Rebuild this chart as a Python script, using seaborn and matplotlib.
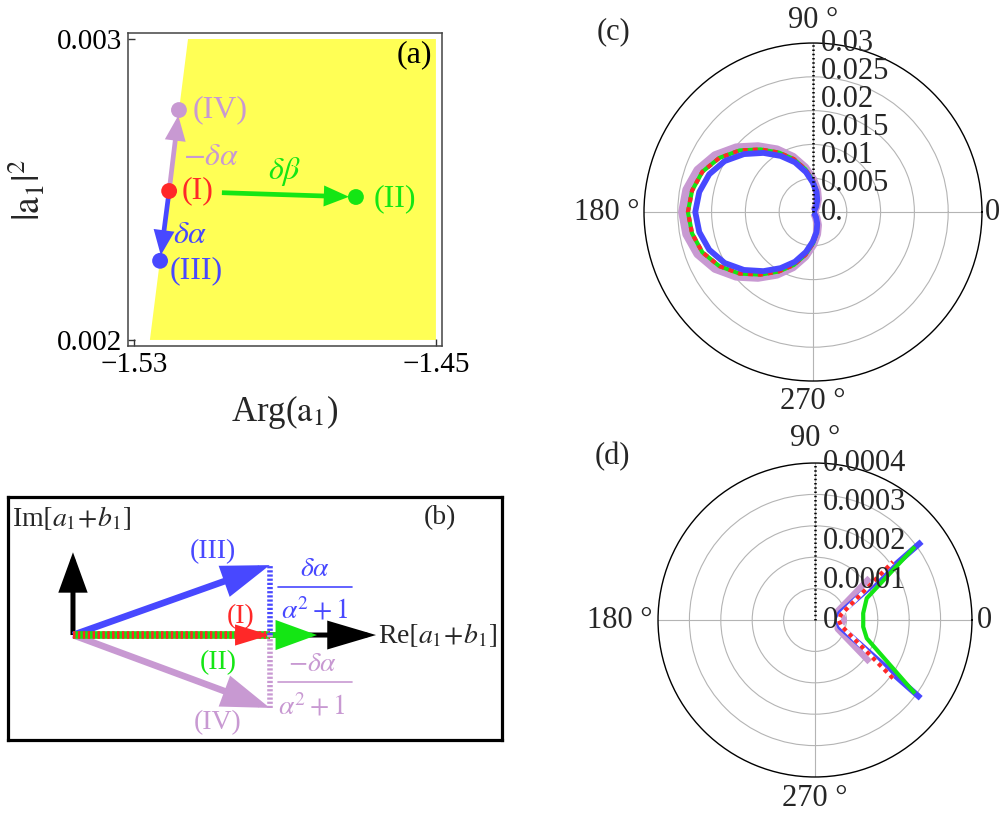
import numpy as np
import matplotlib
matplotlib.use("Agg")
import matplotlib.pyplot as plt
import seaborn as sns

# ---------------- data ----------------
# panel (a): stable region and the four states
region_arg = [-1.5258, -1.5157, -1.45, -1.45]
region_abs2 = [0.002, 0.003, 0.003, 0.002]
state_names = ["(I)", "(II)", "(III)", "(IV)"]
state_arg = [-1.5207, -1.4712, -1.5231, -1.5181]
state_abs2 = [0.002495, 0.002475, 0.002263, 0.002764]
a_xticks = [-1.53, -1.45]
a_yticks = [0.002, 0.003]

# panel (b): phasors in the complex plane
vec_names = ["(I)", "(II)", "(III)", "(IV)"]
vec_re = [1.0, 1.24, 1.0, 1.0]
vec_im = [0.0, 0.0, 0.355, -0.37]
axis_len_re = 1.54
axis_len_im = 0.42

# panel (c): polar curves (angle in degrees, radius)
theta_c = [0, 10, 20, 30, 40, 50, 60, 70, 80, 90, 100, 110, 120, 130, 140, 150, 160, 170, 180,
           190, 200, 210, 220, 230, 240, 250, 260, 270, 280, 290, 300, 310, 320, 330, 340, 350, 360]
rc_I = [0, 0, 0, 0.0001, 0.0002, 0.0005, 0.0011, 0.0024, 0.0038, 0.0056, 0.0077, 0.0100, 0.0122,
        0.0145, 0.0170, 0.0192, 0.0209, 0.0218, 0.0222,
        0.0218, 0.0209, 0.0192, 0.0170, 0.0145, 0.0122, 0.0100, 0.0077, 0.0056, 0.0038, 0.0024,
        0.0011, 0.0005, 0.0002, 0.0001, 0, 0, 0]
rc_II = [0, 0, 0, 0.0001, 0.0002, 0.0005, 0.0011, 0.0024, 0.0038, 0.0056, 0.0077, 0.0100, 0.0122,
         0.0145, 0.0170, 0.0192, 0.0209, 0.0218, 0.0222,
         0.0218, 0.0209, 0.0192, 0.0170, 0.0145, 0.0122, 0.0100, 0.0077, 0.0056, 0.0038, 0.0024,
         0.0011, 0.0005, 0.0002, 0.0001, 0, 0, 0]
rc_III = [0, 0, 0, 0.0001, 0.0002, 0.0004, 0.0011, 0.0022, 0.0036, 0.0052, 0.0072, 0.0094, 0.0115,
          0.0137, 0.0160, 0.0181, 0.0196, 0.0205, 0.0209,
          0.0205, 0.0196, 0.0181, 0.0160, 0.0137, 0.0115, 0.0094, 0.0072, 0.0052, 0.0036, 0.0022,
          0.0011, 0.0004, 0.0002, 0.0001, 0, 0, 0]
rc_IV = [0, 0, 0, 0.0001, 0.0002, 0.0005, 0.0012, 0.0025, 0.0040, 0.0058, 0.0080, 0.0104, 0.0128,
         0.0152, 0.0178, 0.0201, 0.0218, 0.0228, 0.0232,
         0.0228, 0.0218, 0.0201, 0.0178, 0.0152, 0.0128, 0.0104, 0.0080, 0.0058, 0.0040, 0.0025,
         0.0012, 0.0005, 0.0002, 0.0001, 0, 0, 0]
rc_ticks = [0.0, 0.005, 0.01, 0.015, 0.02, 0.025, 0.03]
rc_ticklabels = ["0.", "0.005", "0.01", "0.015", "0.02", "0.025", "0.03"]
rc_grid = [0.006, 0.012, 0.018, 0.024]

# panel (d): polar curves
thd_I = [-36.8, -12, 0, 12, 36.8]
rd_I = [2.48e-4, 0.68e-4, 0.60e-4, 0.68e-4, 2.48e-4]
thd_II = [-36.3, -19.5, -8, 0, 8, 22.8, 36.3]
rd_II = [3.16e-4, 1.40e-4, 1.24e-4, 1.23e-4, 1.24e-4, 1.43e-4, 3.16e-4]
thd_III = [-36.5, -15, 0, 15, 36.3]
rd_III = [3.35e-4, 0.66e-4, 0.58e-4, 0.66e-4, 3.37e-4]
thd_IV = [-37, -20, 0, 20, 37]
rd_IV = [1.76e-4, 0.63e-4, 0.72e-4, 0.63e-4, 1.76e-4]
rd_ticks = [0.0, 1e-4, 2e-4, 3e-4, 4e-4]
rd_ticklabels = ["0", "0.0001", "0.0002", "0.0003", "0.0004"]
rd_grid = [0.8e-4, 1.6e-4, 2.4e-4, 3.2e-4]

theta_label_pos = [0, 90, 180, 270]
theta_labels = ["0", "90 \u00b0", "180 \u00b0", "270 \u00b0"]

# ---------------- style ----------------
RED = "#FF2828"
GREEN = "#14E614"
BLUE = "#4848FF"
LAV = "#C899D2"
YELLOW = "#FFFF55"
GRID = "#B4B4B4"

sns.set_theme(style="white")
plt.rcParams["font.family"] = ["Liberation Serif", "DejaVu Serif"]
plt.rcParams["mathtext.fontset"] = "stix"
plt.rcParams["axes.unicode_minus"] = True

fig = plt.figure(figsize=(10.04, 8.15), dpi=100)
fig.patch.set_facecolor("white")


def arrow(ax, start, end, color, lw, hl, hw, shrinkA=0, shrinkB=0, z=3):
    ax.annotate("", xy=end, xytext=start,
                arrowprops=dict(arrowstyle=f"-|>,head_length={hl},head_width={hw}",
                                color=color, lw=lw, shrinkA=shrinkA, shrinkB=shrinkB,
                                mutation_scale=1, joinstyle="miter", capstyle="butt"),
                zorder=z)


# ================= (a) =================
axA = fig.add_axes([0.1275, 0.5755, 0.3127, 0.384])
axA.fill(region_arg, region_abs2, color=YELLOW, lw=0, zorder=0)
axA.set_xlim(-1.5316, -1.4484)
axA.set_ylim(0.00198, 0.00302)

pt = {n: (x, y) for n, x, y in zip(state_names, state_arg, state_abs2)}
arrow(axA, pt["(I)"], pt["(IV)"], LAV, 3.4, 12, 5, shrinkB=4)
arrow(axA, pt["(I)"], pt["(III)"], BLUE, 3.4, 12, 5, shrinkB=4)
arrow(axA, pt["(I)"], pt["(II)"], GREEN, 3.4, 12, 5, shrinkA=38, shrinkB=5)

sns.scatterplot(x=state_arg, y=state_abs2, hue=state_names,
                palette={"(I)": RED, "(II)": GREEN, "(III)": BLUE, "(IV)": LAV},
                s=130, linewidth=0, legend=False, ax=axA, zorder=6)

fsA = 23
axA.annotate("(IV)", pt["(IV)"], xytext=(10, 0), textcoords="offset points",
             ha="left", va="center", color=LAV, fontsize=fsA)
axA.annotate("(I)", pt["(I)"], xytext=(9, 0), textcoords="offset points",
             ha="left", va="center", color=RED, fontsize=fsA)
axA.annotate("(II)", pt["(II)"], xytext=(13, -1), textcoords="offset points",
             ha="left", va="center", color=GREEN, fontsize=fsA)
axA.annotate("(III)", pt["(III)"], xytext=(7, -7), textcoords="offset points",
             ha="left", va="center", color=BLUE, fontsize=fsA)
axA.annotate(r"$-\delta\alpha$", pt["(I)"], xytext=(10, 24), textcoords="offset points",
             ha="left", va="center", color=LAV, fontsize=fsA)
axA.annotate(r"$\delta\alpha$", pt["(I)"], xytext=(3, -32), textcoords="offset points",
             ha="left", va="center", color=BLUE, fontsize=fsA)
axA.annotate(r"$\delta\beta$", pt["(I)"], xytext=(83, 14), textcoords="offset points",
             ha="center", va="center", color=GREEN, fontsize=fsA)
axA.text(0.968, 0.93, "(a)", transform=axA.transAxes, ha="right", va="center",
         fontsize=fsA, color="black")

axA.set_xticks(a_xticks)
axA.set_xticklabels([f"{v:.2f}".replace("-", "\u2212") for v in a_xticks])
axA.set_yticks(a_yticks)
axA.set_yticklabels([f"{v:.3f}" for v in a_yticks])
axA.tick_params(direction="in", length=5, width=1, colors="#333333", labelsize=21,
                labelcolor="black", pad=4, left=True, bottom=True)
for s in axA.spines.values():
    s.set_color("#444444")
    s.set_linewidth(1.1)
axA.set_xlabel(r"Arg($\mathrm{a}_1$)", fontsize=25)
axA.set_ylabel(r"$|\mathrm{a}_1|^2$", fontsize=27)
axA.xaxis.set_label_coords(0.5, -0.15)
axA.yaxis.set_label_coords(-0.255, 0.5)

# ================= (b) =================
axB = fig.add_axes([0.008, 0.092, 0.492, 0.298])
axB.set_xlim(-0.33, 2.18)
axB.set_ylim(-0.533, 0.70)
axB.set_xticks([])
axB.set_yticks([])
for s in axB.spines.values():
    s.set_color("black")
    s.set_linewidth(2.3)

o = (0.0, 0.0)
arrow(axB, o, (axis_len_re, 0.0), "black", 3.6, 27, 8, z=2)
arrow(axB, o, (0.0, axis_len_im), "black", 3.6, 22, 8, z=2)
arrow(axB, o, (vec_re[3], vec_im[3]), LAV, 4.8, 25, 8.5, z=3)
arrow(axB, o, (vec_re[2], vec_im[2]), BLUE, 4.8, 25, 8.5, z=3)
arrow(axB, (vec_re[0], vec_im[0]), (vec_re[1], vec_im[1]), GREEN, 4.0, 22, 8, z=4)
# dashed red/green shaft of (I) and (II)
axB.plot([0, vec_re[0]], [0, vec_im[0]], color=GREEN, lw=5.5, solid_capstyle="butt", zorder=5)
axB.plot([0, vec_re[0]], [0, vec_im[0]], color=RED, lw=5.5, ls=(0, (0.32, 0.32)),
         dash_capstyle="butt", zorder=5)
arrow(axB, o, (vec_re[0], vec_im[0]), RED, 0.0, 25, 7.6, z=6)
# dotted projections of (III) and (IV)
axB.plot([vec_re[2], vec_re[2]], [0, vec_im[2]], color=BLUE, lw=4.0, ls=(0, (0.4, 0.35)),
         dash_capstyle="butt", zorder=7)
axB.plot([vec_re[3], vec_re[3]], [0, vec_im[3]], color=LAV, lw=4.0, ls=(0, (0.4, 0.35)),
         dash_capstyle="butt", zorder=7)

fsB = 20
axB.text(-0.31, 0.594, r"Im$[a_1\!+\!b_1]$", ha="left", va="center", fontsize=fsB)
axB.text(1.548, 0.0, r"Re$[a_1\!+\!b_1]$", ha="left", va="center", fontsize=fsB)
axB.text(1.863, 0.594, "(b)", ha="center", va="center", fontsize=fsB)
axB.text(0.711, 0.421, vec_names[2], ha="center", va="center", fontsize=fsB, color=BLUE)
axB.text(0.853, 0.091, vec_names[0], ha="center", va="center", fontsize=fsB, color=RED)
axB.text(0.736, -0.142, vec_names[1], ha="center", va="center", fontsize=fsB, color=GREEN)
axB.text(0.736, -0.447, vec_names[3], ha="center", va="center", fontsize=fsB, color=LAV)
# fractions
axB.text(1.228, 0.335, r"$\delta\alpha$", ha="center", va="center", fontsize=fsB, color=BLUE)
axB.plot([1.04, 1.416], [0.244, 0.244], color=BLUE, lw=1.2)
axB.text(1.228, 0.125, r"$\alpha^2+1$", ha="center", va="center", fontsize=fsB, color=BLUE)
axB.text(1.216, -0.15, r"$-\delta\alpha$", ha="center", va="center", fontsize=fsB, color=LAV)
axB.plot([1.04, 1.416], [-0.239, -0.239], color=LAV, lw=1.2)
axB.text(1.216, -0.365, r"$\alpha^2+1$", ha="center", va="center", fontsize=fsB, color=LAV)


# ================= polar panels =================
def polar_panel(rect, rmax, grid_vals, tick_vals, tick_labels, lab_offsets):
    ax = fig.add_axes(rect, projection="polar")
    ax.set_facecolor("white")
    ax.set_ylim(0, rmax)
    ax.set_yticks(grid_vals)
    ax.set_yticklabels([])
    ax.set_xticks(np.deg2rad(theta_label_pos))
    ax.set_xticklabels([])
    ax.grid(True, color=GRID, lw=0.8)
    ax.tick_params(length=0)
    ax.spines["polar"].set_color("black")
    ax.spines["polar"].set_linewidth(1.0)
    ax.plot([np.pi / 2, np.pi / 2], [0, rmax], color="black", lw=1.8,
            ls=(0, (0.6, 1.1)), dash_capstyle="butt", zorder=8)
    for v, s in zip(tick_vals, tick_labels):
        ax.annotate(s, (np.pi / 2, v), xytext=(5.5, 0), textcoords="offset points",
                    ha="left", va="center", fontsize=22, zorder=9, annotation_clip=False)
    aligns = [("left", "center"), ("center", "bottom"), ("right", "center"), ("center", "top")]
    for ang, s, (ha, va), off in zip(theta_label_pos, theta_labels, aligns, lab_offsets):
        ax.annotate(s, (np.deg2rad(ang), rmax), xytext=off, textcoords="offset points",
                    ha=ha, va=va, fontsize=22, annotation_clip=False)
    return ax


def curve(ax, th, r, color, lw, ls="-", z=3):
    sns.lineplot(x=np.deg2rad(th), y=r, ax=ax, color=color, lw=lw, linestyle=ls,
                 sort=False, estimator=None, zorder=z,
                 solid_capstyle="butt", dash_capstyle="butt", solid_joinstyle="round")


# (c)
axC = polar_panel([0.6414, 0.5325, 0.3367, 0.4147], 0.03, rc_grid, rc_ticks, rc_ticklabels,
                  [(2, 0), (0, 6), (-3, 0), (0, -4)])
curve(axC, theta_c, rc_IV, LAV, 6.0, z=3)
curve(axC, theta_c, rc_II, GREEN, 3.0, z=4)
curve(axC, theta_c, rc_I, RED, 3.0, ls=(0, (1.2, 1.2)), z=5)
curve(axC, theta_c, rc_III, BLUE, 4.2, z=6)
axC.set_xlabel("")
axC.set_ylabel("")

# (d)
axD = polar_panel([0.6554, 0.0466, 0.3127, 0.3853], 4e-4, rd_grid, rd_ticks, rd_ticklabels,
                  [(3.5, 0), (0, 7), (-4, 0), (0, -5)])
curve(axD, thd_IV, rd_IV, LAV, 5.5, z=3)
curve(axD, thd_III, rd_III, BLUE, 4.3, z=4)
curve(axD, thd_I, rd_I, "white", 3.0, z=5)
curve(axD, thd_I, rd_I, RED, 3.0, ls=(0, (1.0, 1.0)), z=6)
curve(axD, thd_II, rd_II, GREEN, 3.0, z=7)
axD.set_xlabel("")
axD.set_ylabel("")

fig.text(0.6106, 0.9607, "(c)", ha="center", va="center", fontsize=22)
fig.text(0.6096, 0.4393, "(d)", ha="center", va="center", fontsize=22)

fig.savefig("out.png", dpi=100, facecolor="white")
